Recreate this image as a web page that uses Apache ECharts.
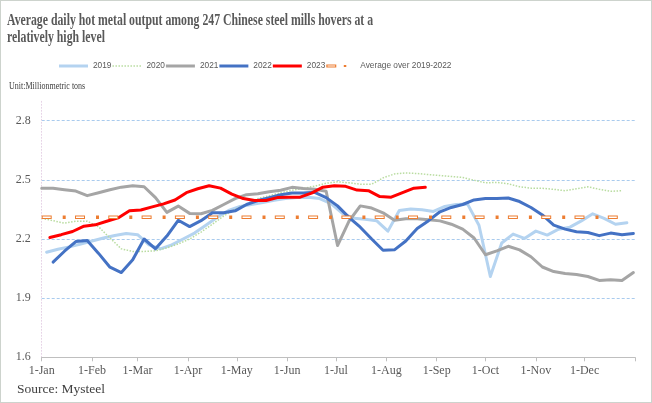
<!DOCTYPE html>
<html>
<head>
<meta charset="utf-8">
<script src="https://cdn.jsdelivr.net/npm/echarts@6/dist/echarts.min.js"></script>
<style>
html,body{margin:0;padding:0;background:#fff;}
#c{width:650px;height:401px;border:1px solid #cdd3cd;}
</style>
</head>
<body>
<div id="c"></div>
<script>
// ---- data (million metric tons, weekly) ----
const titleText = 'Average daily hot metal output among 247 Chinese steel mills hovers at a\nrelatively high level';
const unitText = 'Unit:Millionmetric tons';
const sourceText = 'Source: Mysteel';
const monthLabels = ['1-Jan','1-Feb','1-Mar','1-Apr','1-May','1-Jun','1-Jul','1-Aug','1-Sep','1-Oct','1-Nov','1-Dec'];
const yTicks = [1.6, 1.9, 2.2, 2.5, 2.8];

const start2019 = '2023-01-04';
const v2019 = [2.133,2.148,2.16,2.175,2.19,2.205,2.218,2.228,2.222,2.17,2.15,2.17,2.2,2.23,2.27,2.31,2.345,2.365,2.375,2.385,2.397,2.405,2.41,2.412,2.405,2.38,2.33,2.305,2.3,2.293,2.24,2.345,2.352,2.348,2.34,2.365,2.375,2.377,2.27,2.01,2.18,2.225,2.203,2.24,2.22,2.25,2.26,2.292,2.328,2.305,2.275,2.283];

const start2020 = '2023-01-01';
const v2020 = [2.305,2.293,2.28,2.29,2.29,2.262,2.205,2.15,2.137,2.137,2.14,2.155,2.175,2.2,2.235,2.275,2.317,2.35,2.378,2.405,2.42,2.435,2.447,2.457,2.468,2.483,2.49,2.485,2.478,2.478,2.51,2.53,2.535,2.532,2.527,2.522,2.517,2.512,2.498,2.485,2.487,2.48,2.465,2.458,2.457,2.452,2.445,2.455,2.465,2.452,2.442,2.445];

const start2021 = '2023-01-01';
const v2021 = [2.458,2.458,2.45,2.443,2.42,2.435,2.45,2.463,2.47,2.465,2.41,2.335,2.367,2.33,2.328,2.345,2.375,2.405,2.425,2.43,2.44,2.447,2.462,2.456,2.452,2.442,2.167,2.29,2.368,2.357,2.333,2.295,2.303,2.303,2.298,2.292,2.275,2.25,2.205,2.12,2.14,2.163,2.145,2.11,2.058,2.035,2.025,2.02,2.01,1.99,1.993,1.99,2.03];

const start2022 = '2023-01-08';
const v2022 = [2.083,2.138,2.187,2.193,2.127,2.057,2.03,2.095,2.2,2.15,2.215,2.295,2.263,2.293,2.333,2.333,2.343,2.375,2.395,2.41,2.425,2.433,2.433,2.437,2.41,2.368,2.31,2.26,2.2,2.143,2.145,2.19,2.253,2.293,2.338,2.36,2.375,2.398,2.406,2.405,2.408,2.39,2.36,2.322,2.27,2.25,2.237,2.233,2.217,2.23,2.222,2.228];

const start2023 = '2023-01-06';
const v2023 = [2.208,2.222,2.238,2.265,2.272,2.29,2.307,2.343,2.347,2.363,2.378,2.398,2.435,2.455,2.47,2.458,2.428,2.405,2.395,2.395,2.41,2.412,2.412,2.433,2.463,2.47,2.467,2.448,2.445,2.415,2.412,2.435,2.458,2.462];

const startAvg = '2023-01-01';
const vAvg = [2.31,2.31,2.31,2.31,2.31,2.31,2.31,2.31,2.31,2.31,2.31,2.31,2.31,2.31,2.31,2.31,2.31,2.31,2.31,2.31,2.31,2.31,2.31,2.31,2.31,2.31,2.31,2.31,2.31,2.31,2.31,2.31,2.31,2.31,2.31,2.31,2.31,2.31,2.31,2.31,2.31,2.31,2.31,2.31,2.31,2.31,2.31,2.31,2.31,2.31,2.31,2.31];

// ---- helpers: x is day of year (0 = 1-Jan) ----
const DAY = 86400000;
const base = Date.UTC(2023, 0, 1);
function dayOf(y, m, d) { return Math.round((Date.UTC(y, m, d) - base) / DAY); }
function weekly(startStr, values) {
  const p = startStr.split('-').map(Number);
  const s = dayOf(p[0], p[1] - 1, p[2]);
  return values.map((v, i) => [s + 7 * i, v]);
}
const monthStarts = monthLabels.map((l, i) => dayOf(2023, i, 1));
const axisEnd = dayOf(2024, 0, 1);

const serif = '"Liberation Serif", "Times New Roman", serif';
const sans = '"Liberation Sans", Arial, sans-serif';

// legend icon paths (29 x 3 boxes)
const solidIcon = 'path://M0,0L29,0L29,3L0,3Z';
let dotted = '';
for (let x = 0; x < 29; x += 3) dotted += 'M' + x + ',0.7L' + (x + 1.5) + ',0.7L' + (x + 1.5) + ',2.3L' + x + ',2.3Z';
dotted += 'M29,0L29,0M29,3L29,3';
const dottedIcon = 'path://' + dotted;
const avgIcon = 'path://M0,0L10,0L10,3L0,3ZM1.2,0.9L1.2,2.1L8.8,2.1L8.8,0.9ZM17.5,0.5L20,0.5L20,2.5L17.5,2.5ZM29,0L29,0M29,3L29,3';

function lineSeries(name, data, color, width, extra) {
  return Object.assign({
    name: name, type: 'line', data: data, showSymbol: false, symbol: 'none',
    lineStyle: { color: color, width: width, join: 'round', cap: 'round' },
    itemStyle: { color: color }, emphasis: { disabled: true }, animation: false
  }, extra || {});
}

const c2019 = '#b4d3f0', c2020 = '#b9dca0', c2021 = '#a5a5a5', c2022 = '#4472c4', c2023 = '#ff0000', cAvg = '#ed7d31';

const chart = echarts.init(document.getElementById('c'), null, { renderer: 'canvas' });
chart.setOption({
  backgroundColor: '#fff',
  animation: false,
  graphic: [
    { type: 'text', x: 6, y: 11, scaleX: 0.736, silent: true,
      style: { text: titleText, fontFamily: serif, fontWeight: 'bold', fontSize: 16, fill: '#595959', lineHeight: 17, verticalAlign: 'top' } },
    { type: 'text', x: 8, y: 80, scaleX: 0.8, silent: true,
      style: { text: unitText, fontFamily: serif, fontSize: 10, fill: '#404040', verticalAlign: 'top' } },
    { type: 'text', x: 16, y: 381, silent: true,
      style: { text: sourceText, fontFamily: serif, fontSize: 13.5, fill: '#404040', verticalAlign: 'top' } }
  ],
  legend: {
    left: 58, top: 61, padding: 0, itemWidth: 29, itemHeight: 3, itemGap: 1,
    textStyle: { fontFamily: sans, fontSize: 8.3, color: '#595959' },
    data: [
      { name: '2019', icon: solidIcon, itemStyle: { color: c2019 } },
      { name: '2020', icon: dottedIcon, itemStyle: { color: c2020 } },
      { name: '2021', icon: solidIcon, itemStyle: { color: c2021 } },
      { name: '2022', icon: solidIcon, itemStyle: { color: c2022 } },
      { name: '2023', icon: solidIcon, itemStyle: { color: c2023 } },
      { name: 'Average over 2019-2022', icon: avgIcon, itemStyle: { color: cAvg } }
    ]
  },
  grid: { left: 40.7, right: 16, top: 100, bottom: 44.7, containLabel: false },
  xAxis: {
    type: 'value', min: 0, max: axisEnd,
    axisLine: { show: true, lineStyle: { color: '#bfbfbf', width: 1 } },
    axisTick: { show: true, length: 4, inside: false, customValues: monthStarts.concat([axisEnd]), lineStyle: { color: '#bfbfbf' } },
    axisLabel: { customValues: monthStarts, fontFamily: serif, fontSize: 12, color: '#595959', margin: 8,
      formatter: function (v) { const i = monthStarts.indexOf(Math.round(v)); return i >= 0 ? monthLabels[i] : ''; } },
    splitLine: { show: false }
  },
  yAxis: {
    type: 'value', min: 1.6, max: 2.9, interval: 0.3,
    axisLine: { show: true, lineStyle: { color: '#e6d3e6', type: [1, 2], width: 1 } },
    axisTick: { show: false },
    axisLabel: { fontFamily: serif, fontSize: 12, color: '#595959', margin: 11, showMaxLabel: false,
      formatter: function (v) { return yTicks.indexOf(Math.round(v * 10) / 10) >= 0 ? v.toFixed(1) : ''; } },
    splitLine: { show: true, lineStyle: { color: ['#a9cbee','#a9cbee','#a9cbee','#a9cbee','#a9cbee','rgba(0,0,0,0)'], type: [3, 2], width: 1 } }
  },
  series: [
    lineSeries('2019', weekly(start2019, v2019), c2019, 3),
    lineSeries('2020', weekly(start2020, v2020), c2020, 1.5, { lineStyle: { color: c2020, width: 1.5, type: [1.5, 1.5] } }),
    lineSeries('2021', weekly(start2021, v2021), c2021, 3),
    lineSeries('2022', weekly(start2022, v2022), c2022, 3),
    lineSeries('2023', weekly(start2023, v2023), c2023, 3),
    lineSeries('Average over 2019-2022', weekly(startAvg, vAvg), cAvg, 3.5,
      { lineStyle: { color: cAvg, width: 3.5, type: [10, 11, 3, 9.3], cap: 'butt' } }),
    lineSeries('avgInner', weekly(startAvg, vAvg), '#ffffff', 1.5,
      { lineStyle: { color: '#ffffff', width: 1.5, type: [8, 25.3], dashOffset: -1, cap: 'butt' } })
  ]
});
</script>
</body>
</html>
